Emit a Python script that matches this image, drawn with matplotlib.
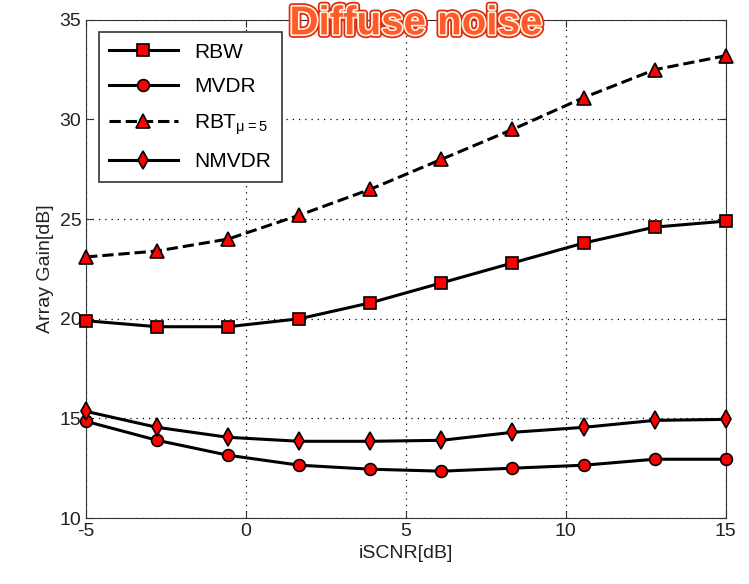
import numpy as np
import matplotlib.pyplot as plt
import matplotlib.patheffects as pe

plt.rcParams['font.family'] = ['Liberation Sans', 'DejaVu Sans']
plt.rcParams['axes.unicode_minus'] = False
plt.rcParams['mathtext.default'] = 'regular'

# Datos
iscnr = [-5, -2.78, -0.56, 1.67, 3.89, 6.11, 8.33, 10.56, 12.78, 15]
rbw = [19.9, 19.6, 19.6, 20.0, 20.8, 21.8, 22.8, 23.8, 24.6, 24.9]
mvdr = [14.85, 13.9, 13.15, 12.65, 12.45, 12.35, 12.5, 12.65, 12.95, 12.95]
rbt = [23.1, 23.4, 24.0, 25.2, 26.5, 28.0, 29.5, 31.1, 32.5, 33.2]
nmvdr = [15.35, 14.55, 14.05, 13.85, 13.85, 13.9, 14.3, 14.55, 14.9, 14.95]

fig = plt.figure(figsize=(7.49, 5.84), dpi=100)
ax = fig.add_axes([0.115, 0.113, 0.854, 0.853])

kw = dict(color='black', linewidth=2.2, markerfacecolor='red',
          markeredgecolor='black', markeredgewidth=1.2, clip_on=False, zorder=3)
ax.plot(iscnr, rbw, '-', marker='s', markersize=9, label='RBW', **kw)
ax.plot(iscnr, mvdr, '-', marker='o', markersize=8.5, label='MVDR', **kw)
ax.plot(iscnr, rbt, '--', marker='^', markersize=9.5, label=r'RBT$_{\mu=5}$', **kw)
ax.plot(iscnr, nmvdr, '-', marker='d', markersize=9, label='NMVDR', **kw)

ax.set_xlim(-5, 15)
ax.set_ylim(10, 35)
ax.set_xticks([-5, 0, 5, 10, 15])
ax.set_yticks([10, 15, 20, 25, 30, 35])
ax.grid(True, color='black', linestyle=(0, (1, 4)), linewidth=0.9)
ax.tick_params(labelsize=14, direction='in', length=5, color='#333333',
               top=True, right=True, labelcolor='#222222')
for s in ax.spines.values():
    s.set_color('#333333')

ax.set_xlabel('iSCNR[dB]', fontsize=14, color='#222222')
ax.set_ylabel('Array Gain[dB]', fontsize=14, color='#222222')

leg = ax.legend(loc='upper left', fontsize=15, fancybox=False, edgecolor='#333333',
                handlelength=3.3, borderaxespad=0.6, labelspacing=0.75,
                borderpad=0.5, framealpha=1)
leg.get_frame().set_linewidth(1.2)

fig.text(0.555, 0.960, 'Diffuse noise', fontsize=29, fontweight='bold',
         color='#ff5a2a', ha='center', va='center',
         path_effects=[pe.Stroke(linewidth=5, foreground='#e02a10'),
                       pe.Stroke(linewidth=2.5, foreground='#fff3e0'),
                       pe.Normal()])

fig.savefig('out.png', dpi=100)
